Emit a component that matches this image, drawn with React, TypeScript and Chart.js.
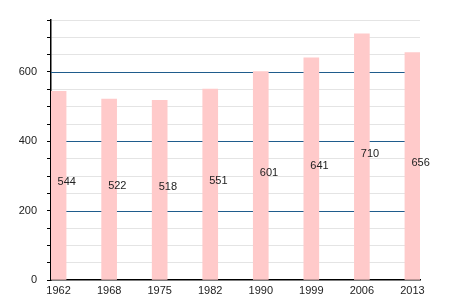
import React, { useEffect, useRef } from "react";
import { Chart, registerables } from "chart.js";

Chart.register(...registerables);

const years = ["1962", "1968", "1975", "1982", "1990", "1999", "2006", "2013"];
const population = [544, 522, 518, 551, 601, 641, 710, 656];
const yMax = 750;
const yStep = 50;
const labeledStep = 200;
const majorLines = [200, 400, 600];

const isLabeled = (v: number) => Math.round(v) % labeledStep === 0;

const majorGrid = {
  id: "majorGrid",
  beforeDatasetsDraw(chart: any) {
    const { ctx, chartArea } = chart;
    const y = chart.scales.y;
    ctx.save();
    ctx.strokeStyle = "#1f5c8c";
    ctx.lineWidth = 1;
    majorLines.forEach((v) => {
      const py = Math.round(y.getPixelForValue(v)) + 0.5;
      ctx.beginPath();
      ctx.moveTo(chartArea.left, py);
      ctx.lineTo(chartArea.right, py);
      ctx.stroke();
    });
    ctx.restore();
  },
};

const valueLabels = {
  id: "valueLabels",
  afterDatasetsDraw(chart: any) {
    const ctx = chart.ctx;
    const meta = chart.getDatasetMeta(0);
    ctx.save();
    ctx.font = "11px 'Liberation Sans', Arial, sans-serif";
    ctx.fillStyle = "#222";
    ctx.textAlign = "left";
    ctx.textBaseline = "middle";
    meta.data.forEach((el: any, i: number) => {
      const y = (el.y + el.base) / 2 - 3;
      ctx.fillText(String(population[i]), el.x - 1, y);
    });
    ctx.restore();
  },
};

export default function App() {
  const ref = useRef<HTMLCanvasElement | null>(null);
  useEffect(() => {
    document.body.style.margin = "0";
    if (!ref.current) return;
    const chart = new Chart(ref.current, {
      type: "bar",
      data: {
        datasets: [
          {
            data: population.map((v, i) => ({ x: i, y: v })),
            backgroundColor: "#ffcaca",
            borderWidth: 0,
            barThickness: 15,
          },
        ],
      },
      options: {
        animation: false,
        responsive: false,
        layout: { padding: { top: 20, right: 30, left: 0, bottom: 0 } },
        plugins: { legend: { display: false }, tooltip: { enabled: false } },
        scales: {
          x: {
            type: "linear",
            offset: false,
            min: -0.15,
            max: 7.15,
            afterBuildTicks: (s: any) => {
              s.ticks = years.map((_, i) => ({ value: i }));
            },
            afterFit: (s: any) => {
              s.height = 20;
            },
            grid: { color: "rgba(0,0,0,0)", drawTicks: false },
            border: { display: true, color: "#000", width: 1.5 },
            ticks: {
              autoSkip: false,
              maxRotation: 0,
              padding: 4,
              color: "#222",
              font: { family: "'Liberation Sans', Arial, sans-serif", size: 11 },
              callback: (v: any) => years[Math.round(Number(v))] ?? "",
            },
          },
          y: {
            min: 0,
            max: yMax,
            afterBuildTicks: (s: any) => {
              const t = [];
              for (let v = 0; v <= yMax; v += yStep) t.push({ value: v });
              s.ticks = t;
            },
            afterFit: (s: any) => {
              s.width = 51;
            },
            grid: {
              color: (c: any) => {
                const v = Number(c.tick ? c.tick.value : 0);
                if (v === 0 || isLabeled(v)) return "rgba(0,0,0,0)";
                return "rgb(228,228,228)";
              },
              lineWidth: 1,
              tickColor: "#000",
              tickLength: 4,
              tickWidth: 1,
            },
            border: { display: true, color: "#000", width: 1.5 },
            ticks: {
              autoSkip: false,
              padding: 10,
              color: "#222",
              font: { family: "'Liberation Sans', Arial, sans-serif", size: 11 },
              callback: (v: any) => (isLabeled(Number(v)) ? String(v) : ""),
            },
          },
        },
      },
      plugins: [majorGrid, valueLabels],
    });
    return () => chart.destroy();
  }, []);
  return (
    <div style={{ width: 450, height: 300 }}>
      <canvas ref={ref} width={450} height={300} />
    </div>
  );
}
